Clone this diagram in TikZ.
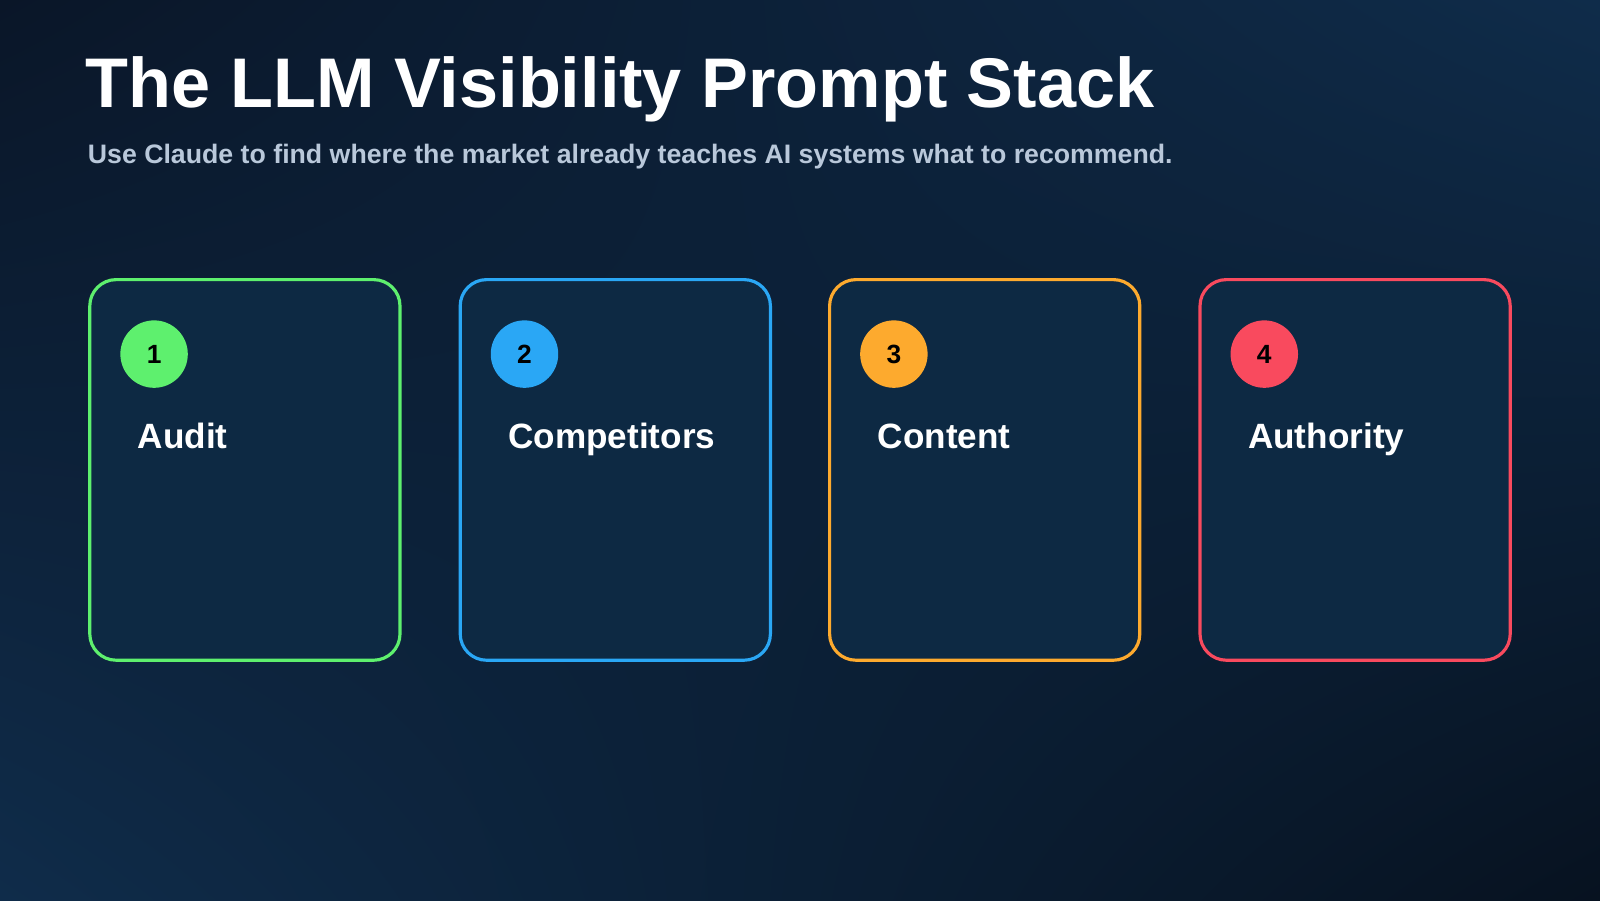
\documentclass[tikz,border=0pt]{standalone}
\usepackage{fontspec}
\setmainfont{Liberation Sans}
\usetikzlibrary{shadings}
\definecolor{bgA}{HTML}{0A1628}
\definecolor{bgB}{HTML}{0F2C4A}
\definecolor{bgC}{HTML}{071220}
\definecolor{cardfill}{HTML}{0D2943}
\definecolor{cgreen}{HTML}{5EF06E}
\definecolor{cblue}{HTML}{2AA7F5}
\definecolor{corange}{HTML}{FDAA2E}
\definecolor{cred}{HTML}{F94A5E}
\definecolor{subc}{HTML}{B9C8DA}
\begin{document}
\begin{tikzpicture}[x=0.010204cm,y=-0.010204cm,
  numc/.style={circle,fill=#1,minimum size=19.2pt,inner sep=0pt,font=\bfseries\fontsize{7.5}{9}\selectfont,text=black},
  lab/.style={anchor=base west,text=white,font=\bfseries\fontsize{10}{12}\selectfont}]
\useasboundingbox (0,0) rectangle (1568,882);
\shade[upper left=bgA,upper right=bgB,lower left=bgB,lower right=bgC] (0,0) rectangle (1568,882);
\node[anchor=base west,text=white,font=\bfseries\fontsize{20}{24}\selectfont] (title) at (72,105) {The LLM Visibility Prompt Stack};
\node[anchor=base west,text=subc,font=\bfseries\fontsize{7.6}{9}\selectfont] (sub) at (74,160) {Use Claude to find where the market already teaches AI systems what to recommend.};
\foreach \i/\x/\c/\t in {1/88/cgreen/Audit,2/451/cblue/Competitors,3/813/corange/Content,4/1176/cred/Authority}{
  \draw[draw=\c,line width=0.9pt,rounded corners=7.5pt,fill=cardfill] (\x,274) rectangle ++(304,373);
  \node[numc=\c] (n\i) at (\x+63,347) {\i};
  \node[lab] (l\i) at (\x+35,440) {\t};
}
\end{tikzpicture}
\end{document}
